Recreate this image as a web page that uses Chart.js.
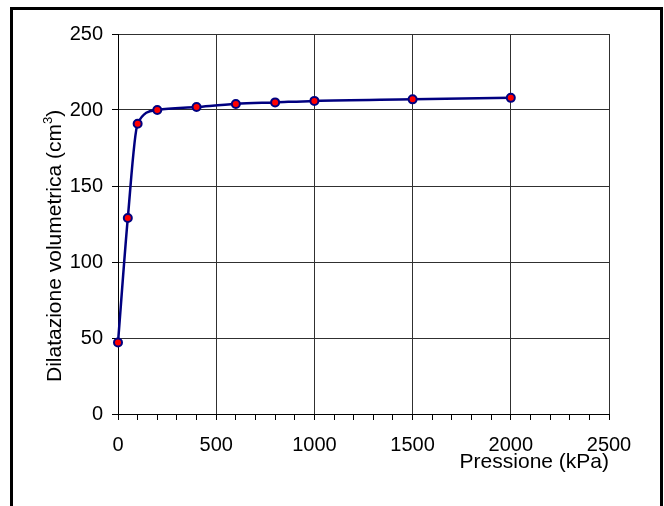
<!DOCTYPE html>
<html>
<head>
<meta charset="utf-8">
<script src="https://cdn.jsdelivr.net/npm/chart.js@4.4.1/dist/chart.umd.min.js"></script>
<style>
    html, body { margin: 0; padding: 0; background: #fff; overflow: hidden; }
    #frame { position: absolute; left: 10px; top: 7px; width: 653px; height: 520px; border: 3px solid #000; box-sizing: border-box; }
    #wrap { position: absolute; left: 0; top: 0; width: 664px; height: 506px; }
</style>
</head>
<body>
<div id="frame"></div>
<div id="wrap"><canvas id="chart" width="664" height="506"></canvas></div>
<script>
// --- DATA ---
const pressure = [0, 50, 100, 200, 400, 600, 800, 1000, 1500, 2000];   // kPa
const volume = [47, 129, 191, 200, 202, 204, 205, 206, 207, 208];       // cm3

// axis ranges / tick steps
const xRange = [0, 2500];
const xMajorStep = 500;
const xMinorStep = 100;
const yRange = [0, 250];
const yStep = 50;

const FONT = '"Liberation Sans", Arial, sans-serif';

// y title drawn by hand so the superscript 3 looks right
const yTitlePlugin = {
    id: 'yTitle',
    afterDraw(chart) {
        const ctx = chart.ctx;
        const area = chart.chartArea;
        ctx.save();
        ctx.translate(61, area.bottom - 32);
        ctx.rotate(-Math.PI / 2);
        ctx.fillStyle = '#000';
        ctx.textAlign = 'left';
        ctx.textBaseline = 'alphabetic';
        ctx.font = '21px ' + FONT;
        const main = 'Dilatazione volumetrica (cm';
        ctx.fillText(main, 0, 0);
        let w = ctx.measureText(main).width;
        ctx.font = '13px ' + FONT;
        ctx.fillText('3', w, -9);
        w += ctx.measureText('3').width;
        ctx.font = '21px ' + FONT;
        ctx.fillText(')', w, 0);
        ctx.restore();
    }
};

const points = pressure.map((p, i) => ({ x: p, y: volume[i] }));

const chart = new Chart(document.getElementById('chart').getContext('2d'), {
    type: 'line',
    data: {
        datasets: [{
            data: points,
            borderColor: '#000080',
            borderWidth: 2.5,
            cubicInterpolationMode: 'monotone',
            fill: false,
            clip: false,
            pointRadius: 4,
            pointBackgroundColor: '#ff0000',
            pointBorderColor: '#000080',
            pointBorderWidth: 2
        }]
    },
    options: {
        responsive: false,
        animation: false,
        devicePixelRatio: 1,
        layout: { padding: { top: 34, right: 55, left: 0, bottom: 0 } },
        plugins: {
            legend: { display: false },
            tooltip: { enabled: false }
        },
        scales: {
            x: {
                type: 'linear',
                position: 'bottom',
                min: xRange[0],
                max: xRange[1],
                afterFit: s => { s.height = 92; },
                ticks: {
                    stepSize: xMinorStep,
                    autoSkip: false,
                    maxRotation: 0,
                    padding: 13,
                    color: '#000',
                    font: { family: FONT, size: 20 },
                    callback: v => (v % xMajorStep === 0 ? v : '')
                },
                grid: {
                    color: c => (c.tick && c.tick.value % xMajorStep === 0 ? '#303030' : 'rgba(0,0,0,0)'),
                    tickColor: '#000',
                    tickLength: 6,
                    lineWidth: 1
                },
                border: { color: '#000', width: 1 },
                title: {
                    display: true,
                    text: 'Pressione (kPa)',
                    align: 'end',
                    color: '#000',
                    font: { family: FONT, size: 21 },
                    padding: { top: 0, bottom: 31 }
                }
            },
            y: {
                min: yRange[0],
                max: yRange[1],
                afterFit: s => { s.width = 118; },
                ticks: {
                    stepSize: yStep,
                    padding: 9,
                    color: '#000',
                    font: { family: FONT, size: 20 }
                },
                grid: {
                    color: '#303030',
                    tickColor: '#000',
                    tickLength: 6,
                    lineWidth: 1
                },
                border: { color: '#000', width: 1 }
            }
        }
    },
    plugins: [yTitlePlugin]
});
</script>
</body>
</html>
